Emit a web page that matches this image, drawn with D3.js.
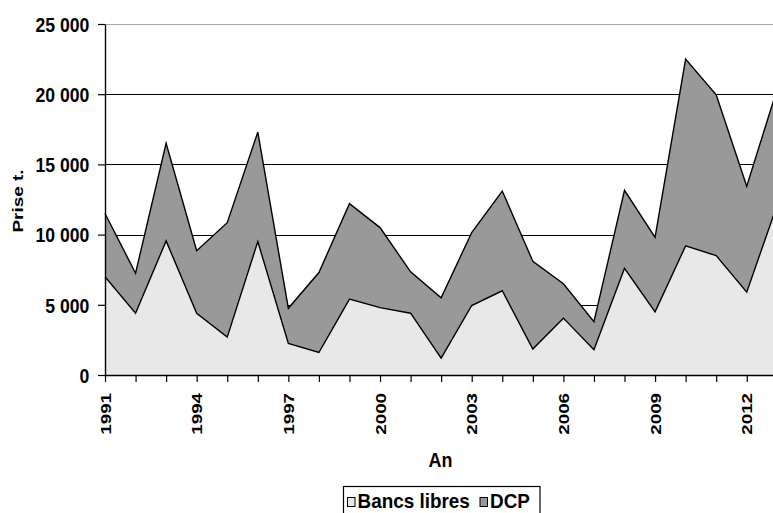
<!DOCTYPE html>
<html>
<head>
<meta charset="utf-8">
<script src="https://cdn.jsdelivr.net/npm/d3@7/dist/d3.min.js"></script>
<style>
  html, body { margin: 0; padding: 0; background: #fff; }
  svg { display: block; }
  .lbl { font-family: "Liberation Sans", Arial, sans-serif; font-weight: bold; }
</style>
</head>
<body>
<svg id="chart" width="773" height="513"></svg>
<script>
const years = [1991,1992,1993,1994,1995,1996,1997,1998,1999,2000,2001,2002,2003,2004,2005,2006,2007,2008,2009,2010,2011,2012,2013];
const bancsLibres = [7000,4400,9550,4400,2700,9500,2250,1600,5400,4800,4400,1200,4950,6000,1850,4050,1800,7600,4500,9200,8500,5900,12150];
const dcp = [4500,2850,6950,4450,8150,7800,2500,5700,6800,5700,2950,4300,5200,7100,6250,2450,2000,5550,5300,13300,11450,7550,8250];
const yTicks = [0,5000,10000,15000,20000,25000];
const seriesNames = ["Bancs libres","DCP"];
const seriesColors = ["#e8e8e8","#999999"];
const yTitle = "Prise t.";
const xTitle = "An";

const svg = d3.select("#chart");
const pLeft = 105, pRight = 777.3, pTop = 24, pBottom = 375;

const x = d3.scalePoint().domain(years).range([pLeft, pRight]);
const y = d3.scaleLinear().domain([0, 25000]).range([pBottom, pTop]);

const table = years.map((yr, i) => ({year: yr, "Bancs libres": bancsLibres[i], "DCP": dcp[i]}));
const stacked = d3.stack().keys(seriesNames)(table);

const locale = d3.formatLocale({decimal: ",", thousands: " ", grouping: [3], currency: ["", ""]});
const fmt = locale.format(",d");

// gridlines
svg.append("g").selectAll("line").data(yTicks.filter(d => d > 0)).join("line")
  .attr("x1", pLeft).attr("x2", 773)
  .attr("y1", d => Math.round(y(d)) + 0.5).attr("y2", d => Math.round(y(d)) + 0.5)
  .attr("stroke", d => d === 25000 ? "#a8a8a8" : "#000")
  .attr("stroke-width", 1.2);

// areas
const area = d3.area().x(d => x(d.data.year)).y0(d => y(d[0])).y1(d => y(d[1]));
const line = d3.line().x(d => x(d.data.year)).y(d => y(d[1]));
svg.append("g").selectAll("path").data(stacked).join("path")
  .attr("d", area).attr("fill", (d, i) => seriesColors[i]);
svg.append("g").selectAll("path").data(stacked).join("path")
  .attr("d", line).attr("fill", "none").attr("stroke", "#000").attr("stroke-width", 1.4).attr("stroke-linejoin", "miter");

// y axis
const yAxis = svg.append("g").attr("transform", `translate(${pLeft},0)`)
  .call(d3.axisLeft(y).tickValues(yTicks).tickFormat(fmt).tickSize(7).tickSizeOuter(0));
yAxis.select(".domain").attr("stroke", "#000").attr("stroke-width", 1.4);
yAxis.selectAll(".tick line").attr("stroke", "#000").attr("stroke-width", 1.2);
yAxis.selectAll(".tick text").attr("class", "lbl").attr("font-size", 20).attr("fill", "#000")
  .attr("x", 0).attr("dy", "0.36em").attr("text-anchor", "end")
  .attr("transform", "translate(-15.7,0) scale(0.88,1)");

// x axis
const xAxis = svg.append("g").attr("transform", `translate(0,${pBottom})`)
  .call(d3.axisBottom(x).tickFormat(d => (d - 1991) % 3 === 0 ? String(d) : "").tickSize(7).tickSizeOuter(0));
xAxis.select(".domain").attr("stroke", "#000").attr("stroke-width", 1.4);
xAxis.selectAll(".tick line").attr("stroke", "#000").attr("stroke-width", 1.2);
xAxis.selectAll(".tick text").attr("class", "lbl").attr("font-size", 14).attr("fill", "#000")
  .attr("x", 0).attr("y", 0).attr("dy", "0.36em").attr("text-anchor", "end")
  .attr("transform", "translate(0,18) rotate(-90) scale(1.34,1)");

// titles
svg.append("text").attr("class", "lbl").attr("font-size", 15.4).attr("text-anchor", "middle")
  .attr("transform", "translate(22.7,201) rotate(-90) scale(1.23,1)").text(yTitle);
svg.append("text").attr("class", "lbl").attr("font-size", 19.5).attr("text-anchor", "middle")
  .attr("transform", "translate(440.5,466.7) scale(0.92,1)").text(xTitle);

// legend
const lg = svg.append("g");
lg.append("rect").attr("x", 343.5).attr("y", 486.5).attr("width", 196.5).attr("height", 40)
  .attr("fill", "#fff").attr("stroke", "#000").attr("stroke-width", 1.2);
const legendX = [347, 479.5];
seriesNames.forEach((name, i) => {
  lg.append("rect").attr("x", legendX[i] + 0.5).attr("y", 497.5).attr("width", 7.5).attr("height", 9)
    .attr("fill", seriesColors[i]).attr("stroke", "#000").attr("stroke-width", 1);
  lg.append("text").attr("class", "lbl").attr("font-size", 21)
    .attr("transform", `translate(${legendX[i] + 10.5},508.3) scale(0.9,1)`).text(name);
});
</script>
</body>
</html>
